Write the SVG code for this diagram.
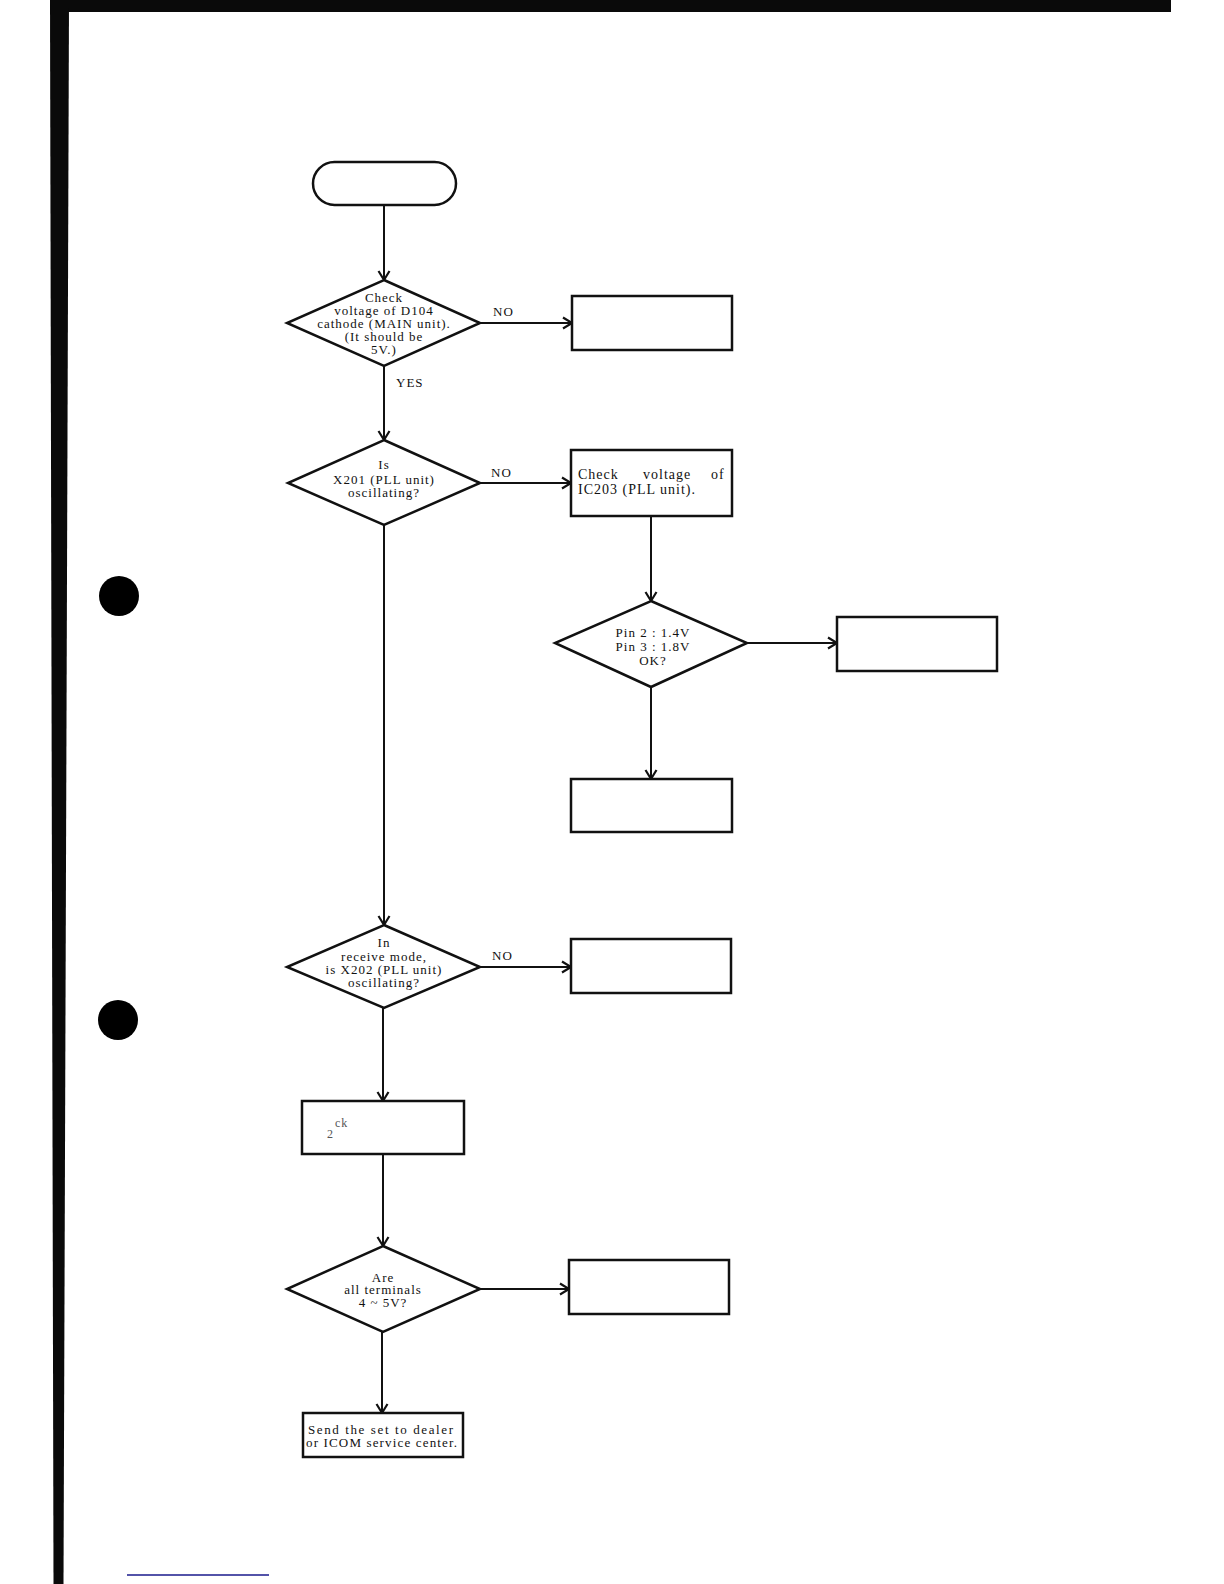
<svg xmlns="http://www.w3.org/2000/svg" width="1224" height="1584" viewBox="0 0 1224 1584">
<style>
.node{fill:#fff;stroke:#111;stroke-width:2.5}
.conn{fill:none;stroke:#111;stroke-width:2}
.t{font-family:"Liberation Serif","Times New Roman",serif;font-size:13px;fill:#111;letter-spacing:1px;text-anchor:middle}
.lbl{font-family:"Liberation Serif","Times New Roman",serif;font-size:13px;fill:#111;letter-spacing:1px}
.box{font-size:14px}
.faint{font-family:"Liberation Serif","Times New Roman",serif;font-size:12px;fill:#555;letter-spacing:1px}
</style>
<defs>
<marker id="arr" markerUnits="userSpaceOnUse" markerWidth="16" markerHeight="16" viewBox="-12 -8 14 16" refX="0" refY="0" orient="auto">
<path d="M-9,-5.5 L0,0 L-9,5.5" fill="none" stroke="#111" stroke-width="2.2"/>
</marker>
</defs>
<rect width="1224" height="1584" fill="#fff"/>
<g id="page-border">
<rect x="50" y="0" width="1121" height="12" fill="#0a0a0a"/>
<polygon points="50,0 69,0 63.5,1584 53.5,1584" fill="#0a0a0a"/>
<circle cx="119" cy="596" r="20" fill="#000"/>
<circle cx="118" cy="1020" r="20" fill="#000"/>
<line x1="127" y1="1575" x2="269" y2="1575" stroke="#1a1a8c" stroke-width="1.5"/>
</g>
<g id="connectors">
<path class="conn" d="M384 205 V280" marker-end="url(#arr)"/>
<path class="conn" d="M480 323 H572" marker-end="url(#arr)"/>
<path class="conn" d="M384 366 V440" marker-end="url(#arr)"/>
<path class="conn" d="M480 483 H571" marker-end="url(#arr)"/>
<path class="conn" d="M651 516 V601" marker-end="url(#arr)"/>
<path class="conn" d="M747 643 H837" marker-end="url(#arr)"/>
<path class="conn" d="M651 687 V779" marker-end="url(#arr)"/>
<path class="conn" d="M384 525 V925" marker-end="url(#arr)"/>
<path class="conn" d="M480 967 H571" marker-end="url(#arr)"/>
<path class="conn" d="M383 1008 V1101" marker-end="url(#arr)"/>
<path class="conn" d="M383 1154 V1246" marker-end="url(#arr)"/>
<path class="conn" d="M480 1289 H569" marker-end="url(#arr)"/>
<path class="conn" d="M382 1332 V1413" marker-end="url(#arr)"/>
<text class="lbl" x="493" y="316">NO</text>
<text class="lbl" x="396" y="387">YES</text>
<text class="lbl" x="491" y="477">NO</text>
<text class="lbl" x="492" y="960">NO</text>
</g>
<g id="start">
<rect class="node" x="313" y="162" width="143" height="43" rx="21.5"/>
</g>
<g id="d1">
<polygon class="node" points="384,280 480,323 384,366 287,323"/>
<text class="t" x="384" y="302">Check</text>
<text class="t" x="384" y="315">voltage of D104</text>
<text class="t" x="384" y="328">cathode (MAIN unit).</text>
<text class="t" x="384" y="341">(It should be</text>
<text class="t" x="384" y="354">5V.)</text>
</g>
<g id="box1">
<rect class="node" x="572" y="296" width="160" height="54"/>
</g>
<g id="d2">
<polygon class="node" points="384,440 480,483 384,525 288,483"/>
<text class="t" x="384" y="469">Is</text>
<text class="t" x="384" y="484">X201 (PLL unit)</text>
<text class="t" x="384" y="497">oscillating?</text>
</g>
<g id="box2">
<rect class="node" x="571" y="450" width="161" height="66"/>
<text class="lbl box" x="578" y="479">Check</text>
<text class="lbl box" x="643" y="479">voltage</text>
<text class="lbl box" x="711" y="479">of</text>
<text class="lbl box" x="578" y="494">IC203 (PLL unit).</text>
</g>
<g id="d3">
<polygon class="node" points="651,601 747,643 651,687 555,643"/>
<text class="t" x="653" y="637">Pin 2 : 1.4V</text>
<text class="t" x="653" y="651">Pin 3 : 1.8V</text>
<text class="t" x="653" y="665">OK?</text>
</g>
<g id="box3">
<rect class="node" x="837" y="617" width="160" height="54"/>
</g>
<g id="box4">
<rect class="node" x="571" y="779" width="161" height="53"/>
</g>
<g id="d4">
<polygon class="node" points="384,925 480,967 384,1008 287,967"/>
<text class="t" x="384" y="947">In</text>
<text class="t" x="384" y="961">receive mode,</text>
<text class="t" x="384" y="974">is X202 (PLL unit)</text>
<text class="t" x="384" y="987">oscillating?</text>
</g>
<g id="box5">
<rect class="node" x="571" y="939" width="160" height="54"/>
</g>
<g id="box6">
<rect class="node" x="302" y="1101" width="162" height="53"/>
<text class="faint" x="335" y="1127">ck</text>
<text class="faint" x="327" y="1138">2</text>
</g>
<g id="d5">
<polygon class="node" points="383,1246 480,1289 383,1332 287,1289"/>
<text class="t" x="383" y="1282">Are</text>
<text class="t" x="383" y="1294">all terminals</text>
<text class="t" x="383" y="1307">4 ~ 5V?</text>
</g>
<g id="box7">
<rect class="node" x="569" y="1260" width="160" height="54"/>
</g>
<g id="box8">
<rect class="node" x="303" y="1413" width="160" height="44"/>
<text class="lbl" x="308" y="1434" textLength="146" lengthAdjust="spacing">Send the set to dealer</text>
<text class="lbl" x="306" y="1447" textLength="152" lengthAdjust="spacing">or ICOM service center.</text>
</g>
</svg>
